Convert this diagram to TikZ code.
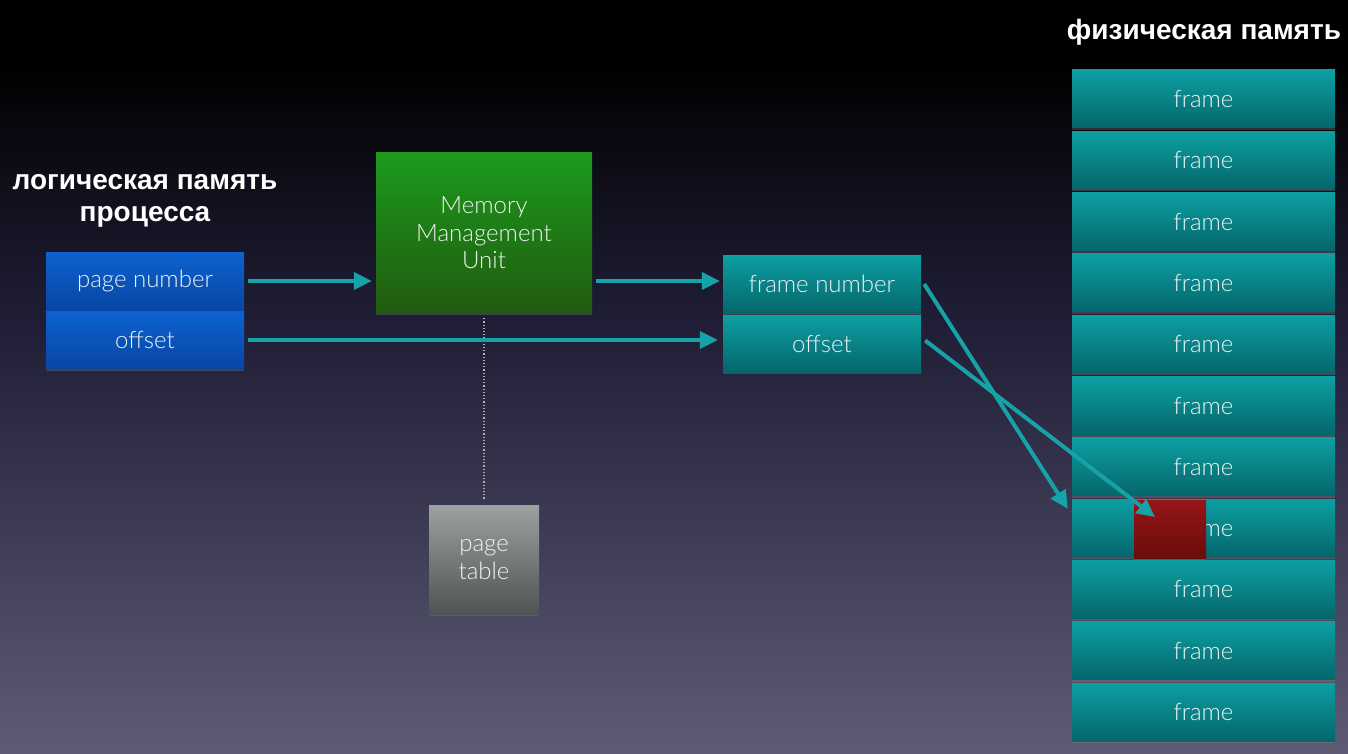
\documentclass[tikz,border=0pt]{standalone}
\usepackage{fontspec}
\setmainfont{Lato Light}
\newfontfamily\ttlfont{Liberation Sans}
\usetikzlibrary{arrows.meta,shadows}

\definecolor{bgmid}{HTML}{211F38}
\definecolor{bgbot}{HTML}{5E5C74}
\definecolor{arrowc}{HTML}{17A2A8}
\definecolor{txt}{HTML}{EEF4F4}
\definecolor{blueT}{HTML}{0D62CF}
\definecolor{blueB}{HTML}{0746A3}
\definecolor{greenT}{HTML}{1C9A1C}
\definecolor{greenB}{HTML}{215A10}
\definecolor{tealT}{HTML}{0C9FA2}
\definecolor{tealB}{HTML}{05666B}
\definecolor{grayT}{HTML}{9DA1A1}
\definecolor{grayB}{HTML}{4F5354}
\definecolor{redT}{HTML}{951616}
\definecolor{redB}{HTML}{6B0D0D}

\newcommand\bxfont{\fontsize{24}{27.5}\selectfont}
\newcommand\hdfont{\ttlfont\bfseries\fontsize{28}{32}\selectfont}

\tikzset{
  cell/.style={inner sep=0pt, text=txt, font=\bxfont, align=center,
    drop shadow={shadow xshift=0pt, shadow yshift=-2pt, opacity=0.35}},
  bluecell/.style={cell, top color=blueT, bottom color=blueB},
  greencell/.style={cell, top color=greenT, bottom color=greenB},
  tealcell/.style={cell, top color=tealT, bottom color=tealB},
  graycell/.style={cell, top color=grayT, bottom color=grayB},
  redcell/.style={cell, top color=redT, bottom color=redB},
  arr/.style={draw=arrowc, line width=4pt, -{Triangle[length=18pt,width=17pt]}},
  heading/.style={text=white, font=\hdfont, align=center, inner sep=0pt},
}

\begin{document}
\begin{tikzpicture}[x=1pt,y=-1pt]
  \useasboundingbox (0,0) rectangle (1348,754);
  % background: black at the top fading to a greyish violet
  \fill[black] (0,0) rectangle (1348,61);
  \fill[top color=black, bottom color=bgmid] (0,60) rectangle (1348,331);
  \fill[top color=bgmid, bottom color=bgbot] (0,330) rectangle (1348,754);

  % logical address
  \node[heading] (lt) at (145,201) {логическая память\\процесса};
  \node[bluecell, minimum width=198pt, minimum height=58pt] (pn) at (145,281) {page number};
  \node[bluecell, minimum width=198pt, minimum height=58pt] (po) at (145,340) {offset};

  % MMU and page table
  \node[greencell, minimum width=216pt, minimum height=160pt] (mmu) at (484,233) {Memory\\Management\\Unit};
  \node[graycell, minimum width=110pt, minimum height=109pt] (pt) at (484,559.5) {page\\table};
  \draw[draw=gray!60, line width=1.2pt, dotted] ([yshift=-5pt]mmu.south) -- ([yshift=5pt]pt.north);

  % physical address
  \node[tealcell, minimum width=198pt, minimum height=58pt] (fn) at (822,284) {frame number};
  \node[tealcell, minimum width=198pt, minimum height=57pt] (fo) at (822,343.5) {offset};

  % physical memory frames
  \node[heading] (pm) at (1204,32) {физическая память};
  \foreach \i in {1,...,11}{
    \node[tealcell, minimum width=263pt, minimum height=58pt] (f\i) at (1203.5,{99+61.3*(\i-1)}) {frame};
  }
  \node[redcell, drop shadow={opacity=0}, minimum width=72pt, minimum height=58pt] (cell) at (1170,529) {};

  % connectors
  \draw[arr] ([xshift=4pt]pn.east) -- ([xshift=-4pt]mmu.west |- pn.east);
  \draw[arr] ([xshift=4pt]mmu.east |- pn.east) -- ([xshift=-3pt]fn.west |- pn.east);
  \draw[arr] ([xshift=4pt]po.east) -- ([xshift=-5pt]fo.west |- po.east);
  \draw[arr] ([xshift=3pt]fn.east) -- ([xshift=-4pt,yshift=-10pt]f8.north west);
  \draw[arr] ([xshift=4pt,yshift=3pt]fo.east) -- ([xshift=-15pt,yshift=12pt]cell.center);
\end{tikzpicture}
\end{document}
